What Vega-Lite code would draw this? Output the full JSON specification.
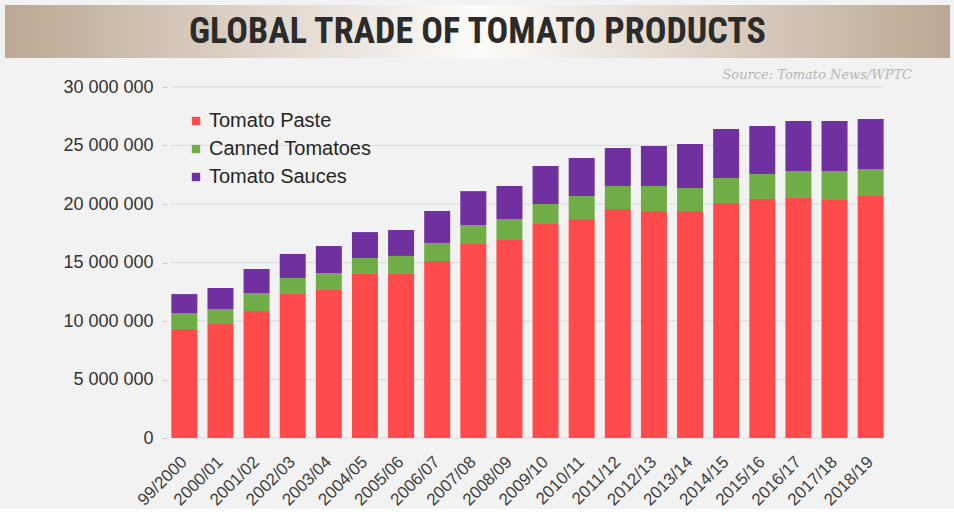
{
  "$schema": "https://vega.github.io/schema/vega-lite/v6.json",
  "background": "#f2f2f2",
  "padding": {"left": 5, "top": 5, "right": 4, "bottom": 0},
  "spacing": 11,
  "config": {"view": {"stroke": null}, "font": "Liberation Sans"},
  "vconcat": [
    {
      "width": 945,
      "height": 53,
      "data": {"values": [{"t": "GLOBAL TRADE OF TOMATO PRODUCTS"}]},
      "layer": [
        {
          "mark": {
            "type": "rect",
            "color": {
              "gradient": "linear",
              "x1": 0, "x2": 1, "y1": 0, "y2": 0,
              "stops": [
                {"offset": 0, "color": "#bca792"},
                {"offset": 0.5, "color": "#fdfcfa"},
                {"offset": 1, "color": "#bca792"}
              ]
            }
          },
          "encoding": {}
        },
        {
          "mark": {"type": "text", "font": "Roboto Condensed, DejaVu Sans Condensed, Roboto, sans-serif", "fontWeight": "bold", "fontSize": 36, "color": "#2b2b2b"},
          "encoding": {"text": {"field": "t"}}
        }
      ]
    },
    {
      "width": 945,
      "height": 351,
      "title": {
        "text": "Source: Tomato News/WPTC",
        "anchor": "end",
        "font": "DejaVu Serif",
        "fontStyle": "italic",
        "fontWeight": "normal",
        "fontSize": 13,
        "color": "#b5b5b5",
        "offset": -4,
        "dx": -38
      },
      "layer": [
        {
          "data": {"values": [{"tick": 0}, {"tick": 5000000}, {"tick": 10000000}, {"tick": 15000000}, {"tick": 20000000}, {"tick": 25000000}, {"tick": 30000000}]},
          "mark": {"type": "rule", "color": "#d9d9d9", "strokeWidth": 1},
          "encoding": {
            "x": {"datum": "99/2000", "type": "nominal", "bandPosition": 0},
            "x2": {"datum": "2018/19", "bandPosition": 1},
            "y": {"field": "tick", "type": "quantitative"}
          }
        },
        {
          "data": {
            "values": [
              {"season": "99/2000", "product": "Tomato Paste", "value": 9320000},
              {"season": "99/2000", "product": "Canned Tomatoes", "value": 1360000},
              {"season": "99/2000", "product": "Tomato Sauces", "value": 1620000},
              {"season": "2000/01", "product": "Tomato Paste", "value": 9740000},
              {"season": "2000/01", "product": "Canned Tomatoes", "value": 1290000},
              {"season": "2000/01", "product": "Tomato Sauces", "value": 1790000},
              {"season": "2001/02", "product": "Tomato Paste", "value": 10850000},
              {"season": "2001/02", "product": "Canned Tomatoes", "value": 1540000},
              {"season": "2001/02", "product": "Tomato Sauces", "value": 2050000},
              {"season": "2002/03", "product": "Tomato Paste", "value": 12310000},
              {"season": "2002/03", "product": "Canned Tomatoes", "value": 1370000},
              {"season": "2002/03", "product": "Tomato Sauces", "value": 2050000},
              {"season": "2003/04", "product": "Tomato Paste", "value": 12650000},
              {"season": "2003/04", "product": "Canned Tomatoes", "value": 1450000},
              {"season": "2003/04", "product": "Tomato Sauces", "value": 2310000},
              {"season": "2004/05", "product": "Tomato Paste", "value": 14020000},
              {"season": "2004/05", "product": "Canned Tomatoes", "value": 1360000},
              {"season": "2004/05", "product": "Tomato Sauces", "value": 2220000},
              {"season": "2005/06", "product": "Tomato Paste", "value": 14020000},
              {"season": "2005/06", "product": "Canned Tomatoes", "value": 1540000},
              {"season": "2005/06", "product": "Tomato Sauces", "value": 2220000},
              {"season": "2006/07", "product": "Tomato Paste", "value": 15130000},
              {"season": "2006/07", "product": "Canned Tomatoes", "value": 1540000},
              {"season": "2006/07", "product": "Tomato Sauces", "value": 2730000},
              {"season": "2007/08", "product": "Tomato Paste", "value": 16580000},
              {"season": "2007/08", "product": "Canned Tomatoes", "value": 1620000},
              {"season": "2007/08", "product": "Tomato Sauces", "value": 2900000},
              {"season": "2008/09", "product": "Tomato Paste", "value": 16920000},
              {"season": "2008/09", "product": "Canned Tomatoes", "value": 1800000},
              {"season": "2008/09", "product": "Tomato Sauces", "value": 2820000},
              {"season": "2009/10", "product": "Tomato Paste", "value": 18290000},
              {"season": "2009/10", "product": "Canned Tomatoes", "value": 1710000},
              {"season": "2009/10", "product": "Tomato Sauces", "value": 3250000},
              {"season": "2010/11", "product": "Tomato Paste", "value": 18720000},
              {"season": "2010/11", "product": "Canned Tomatoes", "value": 1960000},
              {"season": "2010/11", "product": "Tomato Sauces", "value": 3250000},
              {"season": "2011/12", "product": "Tomato Paste", "value": 19570000},
              {"season": "2011/12", "product": "Canned Tomatoes", "value": 1970000},
              {"season": "2011/12", "product": "Tomato Sauces", "value": 3250000},
              {"season": "2012/13", "product": "Tomato Paste", "value": 19400000},
              {"season": "2012/13", "product": "Canned Tomatoes", "value": 2140000},
              {"season": "2012/13", "product": "Tomato Sauces", "value": 3420000},
              {"season": "2013/14", "product": "Tomato Paste", "value": 19400000},
              {"season": "2013/14", "product": "Canned Tomatoes", "value": 1970000},
              {"season": "2013/14", "product": "Tomato Sauces", "value": 3760000},
              {"season": "2014/15", "product": "Tomato Paste", "value": 20090000},
              {"season": "2014/15", "product": "Canned Tomatoes", "value": 2130000},
              {"season": "2014/15", "product": "Tomato Sauces", "value": 4190000},
              {"season": "2015/16", "product": "Tomato Paste", "value": 20430000},
              {"season": "2015/16", "product": "Canned Tomatoes", "value": 2130000},
              {"season": "2015/16", "product": "Tomato Sauces", "value": 4110000},
              {"season": "2016/17", "product": "Tomato Paste", "value": 20510000},
              {"season": "2016/17", "product": "Canned Tomatoes", "value": 2310000},
              {"season": "2016/17", "product": "Tomato Sauces", "value": 4270000},
              {"season": "2017/18", "product": "Tomato Paste", "value": 20340000},
              {"season": "2017/18", "product": "Canned Tomatoes", "value": 2480000},
              {"season": "2017/18", "product": "Tomato Sauces", "value": 4270000},
              {"season": "2018/19", "product": "Tomato Paste", "value": 20680000},
              {"season": "2018/19", "product": "Canned Tomatoes", "value": 2310000},
              {"season": "2018/19", "product": "Tomato Sauces", "value": 4270000}
            ]
          },
          "transform": [
            {"calculate": "indexof(['Tomato Paste', 'Canned Tomatoes', 'Tomato Sauces'], datum.product)", "as": "ord"}
          ],
          "mark": {"type": "bar"},
          "encoding": {
            "x": {
              "field": "season",
              "type": "nominal",
              "sort": null,
              "scale": {
                "domain": ["99/2000", "2000/01", "2001/02", "2002/03", "2003/04", "2004/05", "2005/06", "2006/07", "2007/08", "2008/09", "2009/10", "2010/11", "2011/12", "2012/13", "2013/14", "2014/15", "2015/16", "2016/17", "2017/18", "2018/19"],
                "range": [162, 883],
                "paddingInner": 0.28,
                "paddingOuter": 0.12
              },
              "axis": {
                "title": null,
                "labelAngle": -45,
                "labelFontSize": 17,
                "labelColor": "#404040",
                "ticks": false,
                "domain": false,
                "grid": false,
                "labelPadding": 21
              }
            },
            "y": {
              "field": "value",
              "type": "quantitative",
              "stack": "zero",
              "scale": {"domain": [0, 30000000]},
              "axis": {
                "title": null,
                "offset": -162,
                "grid": false,
                "values": [0, 5000000, 10000000, 15000000, 20000000, 25000000, 30000000],
                "labelExpr": "replace(format(datum.value, ','), regexp(',', 'g'), ' ')",
                "labelFontSize": 18,
                "labelColor": "#333333",
                "domain": false,
                "tickColor": "#c8c8c8",
                "tickSize": 5,
                "labelPadding": 9
              }
            },
            "color": {
              "field": "product",
              "type": "nominal",
              "sort": ["Tomato Paste", "Canned Tomatoes", "Tomato Sauces"],
              "scale": {
                "domain": ["Tomato Paste", "Canned Tomatoes", "Tomato Sauces"],
                "range": ["#ff4b4b", "#70ad47", "#7030a0"]
              },
              "legend": {
                "title": null,
                "orient": "none",
                "legendX": 181,
                "legendY": 106,
                "symbolType": "square",
                "symbolSize": 70,
                "labelFontSize": 20,
                "labelLimit": 400,
                "labelColor": "#262626",
                "rowPadding": 8,
                "labelOffset": 3
              }
            },
            "order": {"field": "ord", "type": "quantitative"}
          }
        }
      ]
    }
  ]
}
